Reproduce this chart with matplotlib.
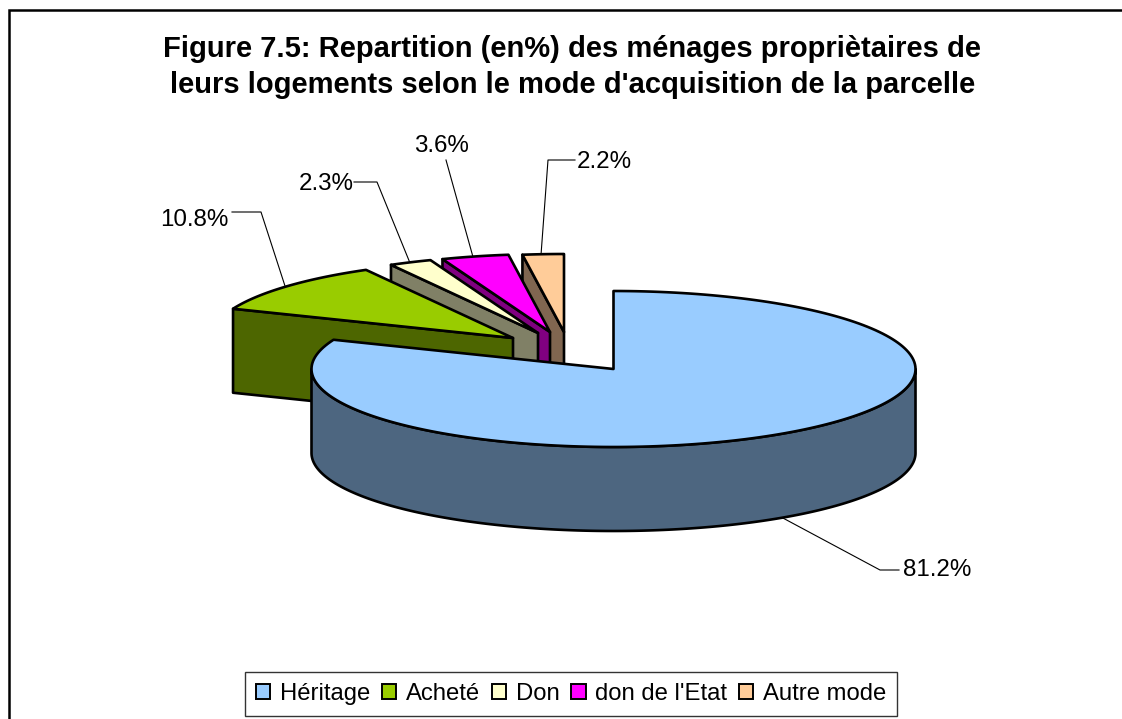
"""Figure 7.5 - exploded 3D-style pie of plot acquisition modes."""
import numpy as np
import matplotlib
matplotlib.use("Agg")
import matplotlib.pyplot as plt
from matplotlib.patches import Patch

plt.rcParams["font.family"] = ["Liberation Sans", "DejaVu Sans"]

categories = ["Héritage", "Acheté", "Don", "don de l'Etat", "Autre mode"]
values = [81.2, 10.8, 2.3, 3.6, 2.2]
top_colors = ["#99CCFF", "#99CC00", "#FFFFCC", "#FF00FF", "#FFCC99"]
side_colors = ["#4D6680", "#4D6600", "#808066", "#800080", "#806650"]
title = ("Figure 7.5: Repartition (en%) des ménages propriètaires de\n"
         "leurs logements selon le mode d'acquisition de la parcelle")

# pie geometry, in pixels of the picture
RX, RY, DEPTH = 302, 78, 84
tips = [(613.5, 369), (513, 338), (538, 333), (550, 332), (564, 332)]
label_pos = [(903, 570), (160, 220), (299, 184), (414, 146), (577, 162)]
leaders = [
    [(781, 517), (880, 570), (899, 570)],
    [(285, 286), (261, 212), (232, 212)],
    [(410, 263), (377, 182), (354, 182)],
    [(473, 257), (446, 160)],
    [(541, 255), (548, 160), (575, 160)],
]


def rim(tip, theta):
    # theta in degrees, clockwise from 12 o'clock
    t = np.radians(theta)
    return tip[0] + RX * np.sin(t), tip[1] - RY * np.cos(t)


fig = plt.figure(figsize=(11.22, 7.19), dpi=100)
ax = fig.add_axes([0, 0, 1, 1])
ax.set_xlim(0, 1122)
ax.set_ylim(719, 0)
ax.axis("off")

edges = np.concatenate([[0], np.cumsum(values)]) / sum(values) * 360
kw = dict(edgecolor="black", linewidth=1.9, joinstyle="round")

# back to front: the small slices first, the big one last
for i in [4, 3, 2, 1, 0]:
    tip = tips[i]
    start, end = edges[i], edges[i + 1]
    if i == 0:
        th = np.linspace(90, 270, 200)
        x, y = rim(tip, th)
        ax.fill(np.r_[x, x[::-1]], np.r_[y, y[::-1] + DEPTH], facecolor=side_colors[i], **kw)
    else:
        x0, y0 = rim(tip, start)
        ax.fill([x0, tip[0], tip[0], x0], [y0, tip[1], tip[1] + DEPTH, y0 + DEPTH],
                facecolor=side_colors[i], **kw)
    th = np.linspace(start, end, 200)
    x, y = rim(tip, th)
    ax.fill(np.r_[tip[0], x], np.r_[tip[1], y], facecolor=top_colors[i], **kw)

for val, pos, pts in zip(values, label_pos, leaders):
    ax.text(pos[0], pos[1], f"{val}%", fontsize=17.4, ha="left", va="center", color="black")
    xs, ys = zip(*pts)
    ax.plot(xs, ys, color="black", linewidth=0.8, zorder=0)

ax.text(572.5, 67, title, fontsize=21, fontweight="bold", ha="center", va="center",
        linespacing=1.33, color="black")

# chart area border, cut off at the right and bottom of the picture
ax.plot([9.5, 9.5, 1122], [719, 9.5, 9.5], color="black", linewidth=1.8, solid_joinstyle="miter")

handles = [Patch(facecolor=c, edgecolor="black", linewidth=1.4) for c in top_colors]
ax.legend(handles, categories, ncol=5, loc="center", bbox_to_anchor=(571, 694),
          bbox_transform=ax.transData, fontsize=17.2, frameon=True, fancybox=False,
          framealpha=1, edgecolor="#333333", handlelength=0.6, handleheight=0.6,
          handletextpad=0.4, columnspacing=0.5, borderpad=0.45, borderaxespad=0)

fig.savefig("out.png", dpi=100)
plt.close(fig)
